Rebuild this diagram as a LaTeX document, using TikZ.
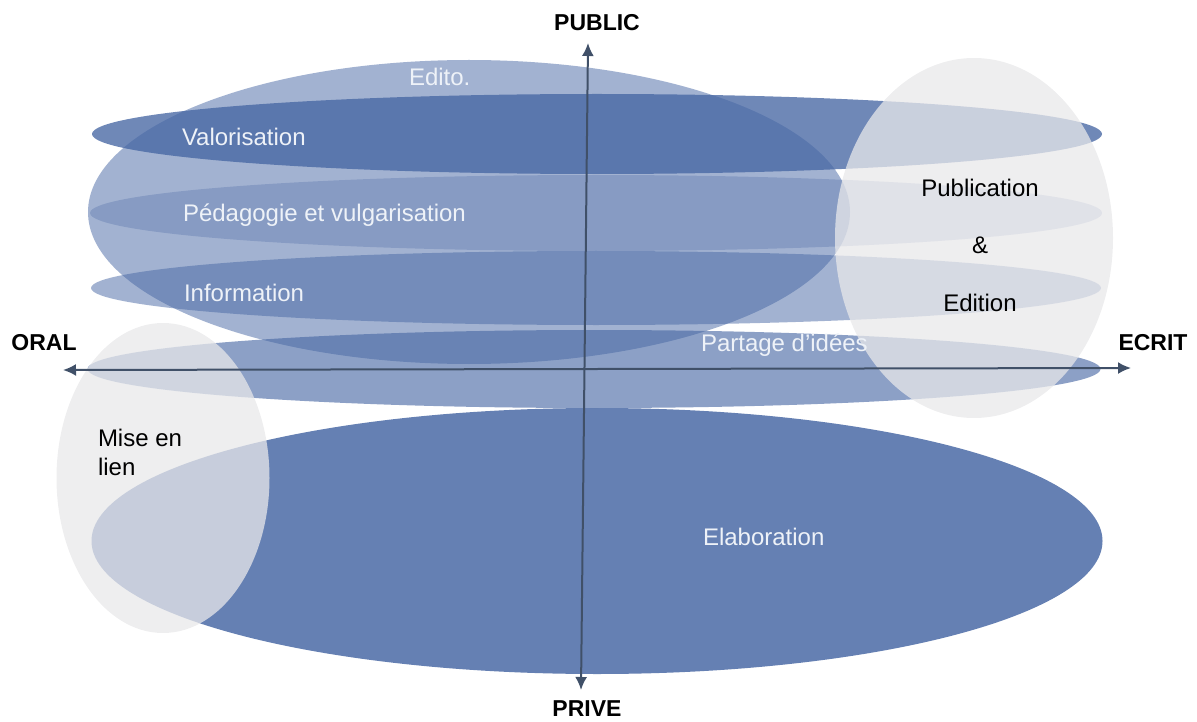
\documentclass[tikz,border=0pt]{standalone}
\usepackage{fontspec}
\setmainfont{Liberation Sans}
\usetikzlibrary{shapes.geometric,arrows.meta}

\definecolor{bandblue}{RGB}{70,102,163}
\definecolor{bubblegrey}{RGB}{232,232,234}
\definecolor{axisgrey}{RGB}{64,80,104}
\definecolor{labelwhite}{RGB}{238,242,248}

\begin{document}
\begin{tikzpicture}[x=1pt,y=-1pt,>={Latex[length=13pt,width=12pt]},
	every node/.style={inner sep=0pt,outer sep=0pt},
	band/.style={ellipse,fill=bandblue,fill opacity=#1},
	bubble/.style={ellipse,fill=bubblegrey,fill opacity=0.75},
	inlabel/.style={text=labelwhite,font=\fontsize{24}{28}\selectfont,anchor=west},
	outlabel/.style={font=\fontsize{24}{29}\selectfont,align=left},
	axislabel/.style={font=\bfseries\fontsize{23}{26}\selectfont},
	axisline/.style={draw=axisgrey,line width=2pt,<->}]
	
	\useasboundingbox (0,0) rectangle (1197,722);
	
	% bands
	\node[band=0.5,minimum width=762pt,minimum height=304pt] (edito) at (469,212) {};
	\node[band=0.78,minimum width=1010pt,minimum height=80pt] (valor) at (597,134) {};
	\node[band=0.3,minimum width=1012pt,minimum height=76pt] (peda) at (596,213) {};
	\node[band=0.5,minimum width=1010pt,minimum height=74pt] (info) at (596,288) {};
	\node[band=0.62,minimum width=1013pt,minimum height=78pt] (partage) at (594,369) {};
	\node[band=0.83,minimum width=1011pt,minimum height=266pt] (elab) at (597,541) {};
	
	% bubbles
	\node[bubble,minimum width=278pt,minimum height=360pt] (pub) at (974,238) {};
	\node[bubble,minimum width=213pt,minimum height=310pt] (lien) at (163,478) {};
	
	% axes
	\node[axislabel] (public) at (597,23) {PUBLIC};
	\node[axislabel] (prive) at (587,709) {PRIVE};
	\node[axislabel] (oral) at (44,343) {ORAL};
	\node[axislabel] (ecrit) at (1153,343) {ECRIT};
	\coordinate (top) at (588,43);
	\coordinate (bottom) at (581,690);
	\coordinate (left) at (63,370);
	\coordinate (right) at (1131,368);
	\draw[axisline] (bottom) -- (top);
	\draw[axisline] (left) -- (right);
	
	% labels
	\node[inlabel] (tedito) at (409,77) {Edito.};
	\node[inlabel] (tvalor) at (182,137) {Valorisation};
	\node[inlabel] (tpeda) at (183,215) {Pédagogie et vulgarisation};
	\node[inlabel] (tinfo) at (184,293) {Information};
	\node[inlabel] (tpartage) at (701,345) {Partage d’idées};
	\node[inlabel] (telab) at (703,537) {Elaboration};
	\node[outlabel,align=center,font=\fontsize{24}{57.5}\selectfont] (tpub) at (980,245) {Publication\\\&\\Edition};
	\node[outlabel,anchor=west] (tlien) at (98,452) {Mise en\\lien};
\end{tikzpicture}
\end{document}
